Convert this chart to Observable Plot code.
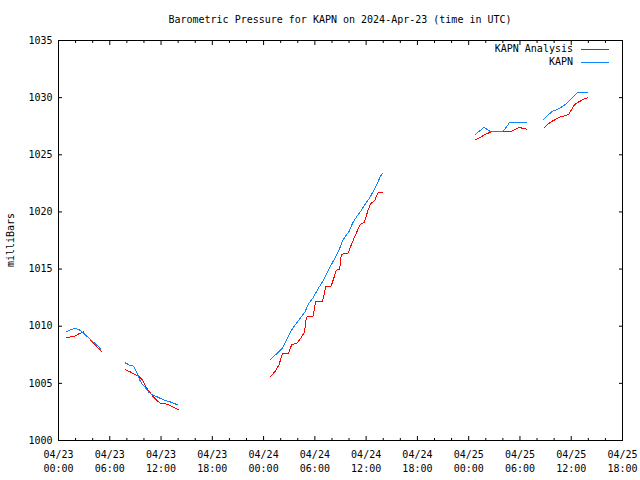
<!DOCTYPE html>
<html>
<head>
<meta charset="utf-8">
<script src="https://cdn.jsdelivr.net/npm/d3@7"></script>
<script src="https://cdn.jsdelivr.net/npm/@observablehq/plot@0.6"></script>
<style>
  html, body { margin: 0; padding: 0; background: white; }
  #wrap { position: relative; width: 640px; height: 480px; font-family: "DejaVu Sans Mono", monospace; font-size: 10px; color: black; }
  .ov { position: absolute; white-space: nowrap; line-height: 1; }
  #title { left: 0; width: 680px; top: 15px; text-align: center; }
  #ylab { left: 11px; top: 240px; transform: translate(-50%, -50%) rotate(-90deg); }
  .leg { right: 67px; }
  .legline { position: absolute; left: 581px; width: 28px; height: 1px; }
</style>
</head>
<body>
<div id="wrap">
  <div id="chart"></div>
  <div class="ov" id="title">Barometric Pressure for KAPN on 2024-Apr-23 (time in UTC)</div>
  <div class="ov" id="ylab">milliBars</div>
  <div class="ov leg" style="top:44px">KAPN Analysis</div>
  <div class="legline" style="top:49px;background:#ff0000"></div>
  <div class="ov leg" style="top:57px">KAPN</div>
  <div class="legline" style="top:62px;background:#0a84ff"></div>
</div>
<script>
// hours since 2024-04-23 00:00 UTC; null marks a gap in the record
const analysisHours = [
  0.9, 1.8, 2.3, 2.9, 3.4, 4.0, 4.6, 5.0, null,
  7.8, 8.4, 9.0, 9.4, 9.8, 10.1, 10.4, 10.7, 11.0, 11.4, 11.9, 12.6, 13.0, 13.5, 14.0, null,
  24.8, 25.3, 25.8, 26.2, 26.9, 27.3, 27.9, 28.3, 28.8, 29.0, 29.8, 30.1, 30.9, 31.3, 31.9, 32.3, 32.5, 32.9, 33.1, 33.9, 34.3, 34.7, 35.3, 35.8, 36.2, 36.5, 37.0, 37.4, 37.9, null,
  48.8, 49.4, 50.0, 50.6, 52.8, 53.4, 53.9, 54.4, 54.8, null,
  56.8, 57.3, 57.8, 58.3, 58.7, 59.2, 59.7, 60.0, 60.4, 60.7, 61.3, 61.9
];
const analysisValues = [
  1009.0, 1009.1, 1009.3, 1009.5, 1009.1, 1008.6, 1008.1, 1007.8, null,
  1006.2, 1006.0, 1005.75, 1005.6, 1005.3, 1004.9, 1004.5, 1004.2, 1003.9, 1003.6, 1003.25, 1003.2, 1003.1, 1002.9, 1002.7, null,
  1005.6, 1006.0, 1006.6, 1007.6, 1007.6, 1008.4, 1008.5, 1008.9, 1009.5, 1010.8, 1010.9, 1012.2, 1012.2, 1013.5, 1013.5, 1014.4, 1014.9, 1015.0, 1016.3, 1016.4, 1017.2, 1017.9, 1018.9, 1019.1, 1020.1, 1020.7, 1021.0, 1021.7, 1021.7, null,
  1026.3, 1026.55, 1026.8, 1027.0, 1027.0, 1027.2, 1027.4, 1027.3, 1027.25, null,
  1027.35, 1027.7, 1027.95, 1028.15, 1028.3, 1028.4, 1028.55, 1028.9, 1029.4, 1029.55, 1029.8, 1030.0
];
const obsHours = [
  0.9, 1.4, 1.9, 2.4, 2.6, 3.35, 4.1, 4.7, 4.9, null,
  7.8, 8.3, 8.8, 9.2, 9.5, 9.8, 10.2, 10.6, 11.0, 11.6, 12.3, 13.0, 13.5, 14.0, null,
  24.8, 25.4, 26.2, 26.7, 27.3, 27.8, 28.4, 28.8, 29.3, 29.8, 30.4, 30.9, 31.3, 31.8, 32.3, 32.8, 33.2, 33.6, 34.0, 34.4, 34.9, 35.4, 35.9, 36.4, 36.9, 37.3, 37.6, 37.9, null,
  48.8, 49.3, 49.8, 50.2, 50.6, 51.9, 52.4, 52.8, 54.8, null,
  56.8, 57.3, 57.8, 58.3, 58.7, 59.2, 59.7, 60.2, 60.7, 61.9
];
const obsValues = [
  1009.5, 1009.7, 1009.8, 1009.7, 1009.6, 1009.1, 1008.6, 1008.2, 1008.0, null,
  1006.8, 1006.6, 1006.5, 1005.9, 1005.3, 1004.9, 1004.6, 1004.2, 1004.0, 1003.8, 1003.55, 1003.4, 1003.25, 1003.1, null,
  1007.1, 1007.5, 1008.1, 1008.8, 1009.7, 1010.2, 1010.8, 1011.2, 1012.0, 1012.5, 1013.3, 1013.9, 1014.5, 1015.2, 1015.9, 1016.6, 1017.4, 1017.9, 1018.3, 1019.0, 1019.6, 1020.1, 1020.7, 1021.2, 1021.9, 1022.5, 1023.0, 1023.4, null,
  1026.8, 1027.1, 1027.4, 1027.2, 1027.0, 1027.0, 1027.4, 1027.85, 1027.85, null,
  1028.1, 1028.5, 1028.8, 1028.95, 1029.1, 1029.35, 1029.65, 1030.05, 1030.45, 1030.45
];
const xTickHours = [0, 6, 12, 18, 24, 30, 36, 42, 48, 54, 60, 66];
const xTickLabels = [
  "04/23\n00:00", "04/23\n06:00", "04/23\n12:00", "04/23\n18:00",
  "04/24\n00:00", "04/24\n06:00", "04/24\n12:00", "04/24\n18:00",
  "04/25\n00:00", "04/25\n06:00", "04/25\n12:00", "04/25\n18:00"
];
const xMinorHours = [2, 4, 8, 10, 14, 16, 20, 22, 26, 28, 32, 34, 38, 40, 44, 46, 50, 52, 56, 58, 62, 64];
const yTicks = [1000, 1005, 1010, 1015, 1020, 1025, 1030, 1035];

const analysis = analysisHours.map((h, i) => ({h, v: analysisValues[i]}));
const obs = obsHours.map((h, i) => ({h, v: obsValues[i]}));

const blank = () => "";
const chart = Plot.plot({
  width: 640, height: 480,
  marginLeft: 58, marginRight: 18, marginTop: 40, marginBottom: 40,
  style: {fontFamily: "DejaVu Sans Mono", fontSize: "10px", background: "white", color: "black", overflow: "visible"},
  x: {domain: [0, 66], label: null},
  y: {domain: [1000, 1035], label: null},
  marks: [
    Plot.axisX({anchor: "bottom", ticks: xTickHours, tickSize: -4, tickPadding: 12, lineHeight: 1.4,
      tickFormat: d => xTickLabels[xTickHours.indexOf(d)], label: null}),
    Plot.axisX({anchor: "bottom", ticks: xMinorHours, tickSize: -2, tickFormat: blank, label: null}),
    Plot.axisX({anchor: "top", ticks: xTickHours, tickSize: -4, tickFormat: blank, label: null}),
    Plot.axisX({anchor: "top", ticks: xMinorHours, tickSize: -2, tickFormat: blank, label: null}),
    Plot.axisY({anchor: "left", ticks: yTicks, tickSize: -4, tickPadding: 10, tickFormat: d => String(d), label: null}),
    Plot.axisY({anchor: "right", ticks: yTicks, tickSize: -4, tickFormat: blank, label: null}),
    Plot.line(analysis, {x: "h", y: "v", stroke: "#ff0000", strokeWidth: 1, shapeRendering: "crispEdges"}),
    Plot.line(obs, {x: "h", y: "v", stroke: "#0a84ff", strokeWidth: 1, shapeRendering: "crispEdges"}),
    Plot.frame({stroke: "black"})
  ]
});
document.getElementById("chart").appendChild(chart);
</script>
</body>
</html>
